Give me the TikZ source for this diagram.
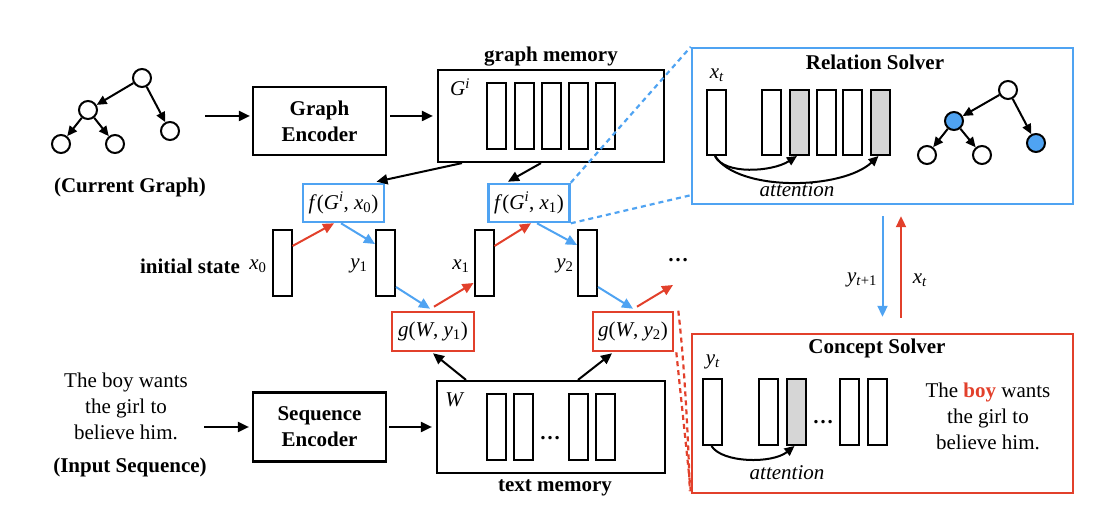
\documentclass[tikz,border=0pt]{standalone}
\usepackage{fontspec}
\setmainfont{Liberation Serif}
\usetikzlibrary{arrows.meta,calc}
\definecolor{myblue}{RGB}{79,163,242}
\definecolor{myred}{RGB}{226,64,43}
\definecolor{cellgray}{RGB}{214,214,214}
\newcommand{\fs}{\fontsize{21}{26}\selectfont}
\newcommand{\mi}[1]{\textit{#1}}
\begin{document}
\begin{tikzpicture}[x=1pt,y=-1pt,
  every node/.style={font=\fs},
  btxt/.style={font=\fs\bfseries},
  itxt/.style={font=\fs\itshape},
  box/.style={draw, line width=2.2pt, inner sep=0pt},
  vec/.style={draw, line width=2pt, minimum width=19pt, minimum height=66pt, inner sep=0pt},
  gvec/.style={vec, fill=cellgray},
  bbox/.style={draw=myblue, line width=2.6pt, inner sep=0pt, minimum width=81pt, minimum height=38pt},
  rbox/.style={draw=myred, line width=2.6pt, inner sep=0pt, minimum width=81pt, minimum height=39pt},
  arr/.style={line width=2pt, -{Triangle[length=11pt,width=10pt]}},
  tarr/.style={line width=2pt, -{Triangle[length=10pt,width=9pt]}},
  barr/.style={line width=2pt, myblue, -{Triangle[length=11pt,width=10pt]}},
  rarr/.style={line width=2pt, myred, -{Triangle[length=11pt,width=10pt]}},
  bdash/.style={myblue, line width=2.2pt, dash pattern=on 5pt off 4pt},
  rdash/.style={myred, line width=2.2pt, dash pattern=on 5pt off 4pt},
  gnode/.style={circle, draw, line width=2pt, minimum size=18pt, inner sep=0pt, fill=white},
  bnode/.style={gnode, fill=myblue}
]
\useasboundingbox (0,0) rectangle (1120,510);

% ---------- current graph ----------
\node[gnode] (r) at (142,78) {};
\node[gnode] (m) at (88,110) {};
\node[gnode] (l1) at (61,144) {};
\node[gnode] (l2) at (115,144) {};
\node[gnode] (rr) at (170,131) {};
\draw[tarr] (r) -- (m);
\draw[tarr] (r) -- (rr);
\draw[tarr] (m) -- (l1);
\draw[tarr] (m) -- (l2);
\node[btxt] (cg) at (130,187) {(Current Graph)};

% ---------- graph encoder / memory ----------
\coordinate (gin) at (205,116);
\node[box, minimum width=133pt, minimum height=68pt, align=center, btxt] (ge) at (319.5,121) {Graph\\Encoder};
\node[box, minimum width=226pt, minimum height=92pt] (gm) at (551,116) {};
\node[btxt] (gml) at (551,57) {graph memory};
\node (gi) at (460,87) {\mi{G}\textsuperscript{\mi{i}}};
\node[vec] (gm1) at (496.5,116) {};
\node[vec] (gm2) at (524,116) {};
\node[vec] (gm3) at (551.5,116) {};
\node[vec] (gm4) at (578,116) {};
\node[vec] (gm5) at (605.5,116) {};
\draw[arr] (gin) -- ([xshift=-2pt]gin -| ge.west);
\draw[arr] ([xshift=3pt]ge.east |- gm.west) -- ([xshift=-4pt]gm.west);

% ---------- f boxes ----------
\node[bbox] (f1) at (343.5,203) {\mi{f}(\mi{G}\textsuperscript{\mi{i}}, \mi{x}\textsubscript{0})};
\node[bbox] (f2) at (529,203) {\mi{f}(\mi{G}\textsuperscript{\mi{i}}, \mi{x}\textsubscript{1})};
\draw[arr] ([xshift=-89pt]gm.south) -- ([xshift=33pt,yshift=1pt]f1.north);
\draw[arr] ([xshift=-10pt]gm.south) -- ([xshift=-21pt,yshift=1pt]f2.north);

% ---------- state vectors ----------
\node[btxt] (init) at (190,266) {initial state};
\node (lx0) at (258,266) {\mi{x}\textsubscript{0}};
\node[vec] (x0) at (282,263) {};
\node (ly1) at (359,266) {\mi{y}\textsubscript{1}};
\node[vec] (y1) at (385.5,263) {};
\node (lx1) at (461,266) {\mi{x}\textsubscript{1}};
\node[vec] (x1) at (484,263) {};
\node (ly2) at (565,266) {\mi{y}\textsubscript{2}};
\node[vec] (y2) at (587.5,263) {};
\node[anchor=base, btxt] (dots) at (678,262) {\dots};
\coordinate (nxt) at (673,285);

% ---------- g boxes ----------
\node[rbox, minimum width=82pt] (g1) at (433,331.5) {\mi{g}(\mi{W}, \mi{y}\textsubscript{1})};
\node[rbox, minimum width=80pt] (g2) at (633,331.5) {\mi{g}(\mi{W}, \mi{y}\textsubscript{2})};

\draw[rarr] ([yshift=17pt]x0.east) -- ([xshift=-9.5pt]f1.south);
\draw[barr] ([xshift=-2.5pt]f1.south) -- ([yshift=19pt]y1.west);
\draw[barr] ([yshift=-24pt]y1.east) -- ([xshift=-3pt,yshift=2pt]g1.north);
\draw[rarr] ([xshift=1pt,yshift=4pt]g1.north) -- ([yshift=-20pt]x1.west);
\draw[rarr] ([yshift=17pt]x1.east) -- ([xshift=2pt]f2.south);
\draw[barr] ([xshift=8pt]f2.south) -- ([yshift=18pt]y2.west);
\draw[barr] ([yshift=-24pt]y2.east) -- ([yshift=2pt]g2.north);
\draw[rarr] ([xshift=4pt,yshift=4pt]g2.north) -- (nxt);

% ---------- sequence encoder / text memory ----------
\node[align=center] (inp) at (126,406) {The boy wants\\the girl to\\believe him.};
\node[btxt] (inl) at (130,467) {(Input Sequence)};
\coordinate (sin) at (204,427);
\node[box, minimum width=133pt, minimum height=69pt, align=center, btxt] (se) at (319.5,427) {Sequence\\Encoder};
\node[box, minimum width=228pt, minimum height=92pt] (tm) at (551,427) {};
\node (tw) at (455,400) {\mi{W}};
\node[vec] (tm1) at (496.5,427) {};
\node[vec] (tm2) at (523.5,427) {};
\node[anchor=base, btxt] (tdots) at (550,440) {\dots};
\node[vec] (tm3) at (578,427) {};
\node[vec] (tm4) at (605.5,427) {};
\node[btxt] (tml) at (555,488) {text memory};
\draw[arr] (sin) -- ([xshift=-3pt]sin -| se.west);
\draw[arr] ([xshift=2pt]se.east |- tm.west) -- ([xshift=-4pt]tm.west);
\draw[arr] ([xshift=-85pt]tm.north) -- ([yshift=-1pt]g1.south);
\draw[arr] ([xshift=27pt]tm.north) -- ([xshift=-21pt,yshift=-1pt]g2.south);

% ---------- relation solver ----------
\node[draw=myblue, line width=2.4pt, minimum width=381pt, minimum height=156pt, inner sep=0pt] (rs) at (882.5,126) {};
\node[btxt] (rst) at (875,62) {Relation Solver};
\node (rxt) at (717,75) {\mi{x}\textsubscript{\mi{t}}};
\node[vec, minimum height=65pt] (rv1) at (716,122.5) {};
\node[vec, minimum height=65pt] (rv2) at (771.5,122.5) {};
\node[gvec, minimum height=65pt] (rv3) at (799,122.5) {};
\node[vec, minimum height=65pt] (rv4) at (826.5,122.5) {};
\node[vec, minimum height=65pt] (rv5) at (852.5,122.5) {};
\node[gvec, minimum height=65pt] (rv6) at (880.5,122.5) {};
\draw[tarr] ([xshift=-1pt]rv1.south) .. controls (724,175) and (772,172) .. ([xshift=-2pt]rv3.south);
\draw[tarr] ([xshift=-1pt]rv1.south) .. controls (738,192) and (842,190) .. ([xshift=-2pt]rv6.south);
\node[itxt] (ratt) at (797,190) {attention};
\node[gnode] (sr) at (1008,90) {};
\node[bnode] (sm) at (954,121) {};
\node[gnode] (sl1) at (927,155) {};
\node[gnode] (sl2) at (982,155) {};
\node[bnode] (srr) at (1036,143) {};
\draw[tarr] (sr) -- (sm);
\draw[tarr] (sr) -- (srr);
\draw[tarr] (sm) -- (sl1);
\draw[tarr] (sm) -- (sl2);

% ---------- concept solver ----------
\node[draw=myred, line width=2.4pt, minimum width=381pt, minimum height=159pt, inner sep=0pt] (cs) at (882.5,413.5) {};
\node[btxt] (cst) at (877,348) {Concept Solver};
\node (cyt) at (713,362) {\mi{y}\textsubscript{\mi{t}}};
\node[vec] (cv1) at (712.5,412) {};
\node[vec] (cv2) at (768.5,412) {};
\node[gvec] (cv3) at (796.5,412) {};
\node[anchor=base, btxt] (cdots) at (823,424) {\dots};
\node[vec] (cv4) at (849.5,412) {};
\node[vec] (cv5) at (877.5,412) {};
\node[align=center] (ctext) at (988,416) {The \textcolor{myred}{\textbf{boy}} wants\\the girl to\\believe him.};
\draw[tarr] ([xshift=-1pt]cv1.south) .. controls (722,463) and (772,464) .. ([xshift=-2pt]cv3.south);
\node[itxt] (catt) at (787,473) {attention};

% ---------- between solvers ----------
\draw[barr] ([yshift=-11pt]rs.south) -- ([yshift=16pt]cs.north);
\draw[rarr] ([xshift=18.5pt,yshift=15pt]cs.north) -- ([xshift=18.5pt,yshift=-11pt]rs.south);
\node (lyt1) at (862,280) {\mi{y}\textsubscript{\mi{t}+1}};
\node (lxt) at (920,280) {\mi{x}\textsubscript{\mi{t}}};

% ---------- zoom dashes ----------
\draw[bdash] (f2.north east) -- (rs.north west);
\draw[bdash] (f2.south east) -- ($(rs.south west)+(0,-10)$);
\draw[rdash] ([xshift=4pt]g2.north east) .. controls (684,360) and (688,430) .. ($(cs.south west)+(-1,-3)$);
\draw[rdash] ([xshift=2pt]g2.south east) -- ($(cs.south west)+(0,-3)$);
\end{tikzpicture}
\end{document}
